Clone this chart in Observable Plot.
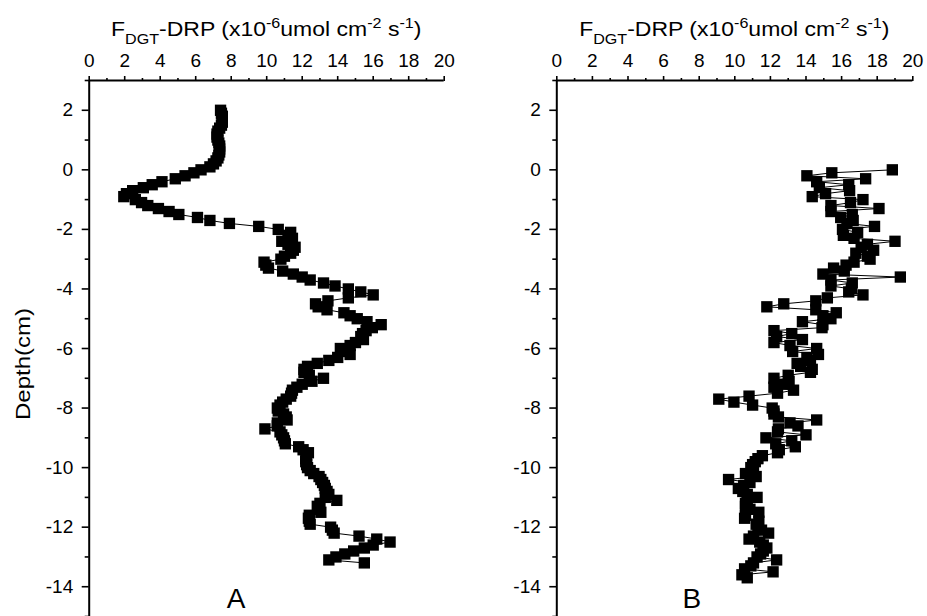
<!DOCTYPE html>
<html>
<head>
<meta charset="utf-8">
<script src="https://cdn.jsdelivr.net/npm/d3@7"></script>
<script src="https://cdn.jsdelivr.net/npm/@observablehq/plot@0.6"></script>
<style>
  html, body { margin: 0; padding: 0; background: #fff; }
  #wrap { position: relative; width: 927px; height: 616px; overflow: hidden; background: #fff; }
  .panel { position: absolute; top: 0; }
  svg text { white-space: pre; }
</style>
</head>
<body>
<div id="wrap"></div>
<script>
// ---------- data ----------
const depthA = [2.0,1.9,1.8,1.7,1.6,1.5,1.4,1.3,1.2,1.1,1.0,0.9,0.8,0.7,0.6,0.5,0.4,0.3,0.2,0.1,0.0,-0.1,-0.2,-0.3,-0.4,-0.5,-0.6,-0.7,-0.8,-0.9,-1.0,-1.1,-1.2,-1.3,-1.4,-1.5,-1.6,-1.7,-1.8,-1.9,-2.0,-2.1,-2.2,-2.3,-2.4,-2.5,-2.6,-2.7,-2.8,-2.9,-3.0,-3.1,-3.2,-3.3,-3.4,-3.5,-3.6,-3.7,-3.8,-3.9,-4.0,-4.1,-4.2,-4.3,-4.4,-4.5,-4.6,-4.7,-4.8,-4.9,-5.0,-5.1,-5.2,-5.3,-5.4,-5.5,-5.6,-5.7,-5.8,-5.9,-6.0,-6.1,-6.2,-6.3,-6.4,-6.5,-6.6,-6.7,-6.8,-6.9,-7.0,-7.1,-7.2,-7.3,-7.4,-7.5,-7.6,-7.7,-7.8,-7.9,-8.0,-8.1,-8.2,-8.3,-8.4,-8.5,-8.6,-8.7,-8.8,-8.9,-9.0,-9.1,-9.2,-9.3,-9.4,-9.5,-9.6,-9.7,-9.8,-9.9,-10.0,-10.1,-10.2,-10.3,-10.4,-10.5,-10.6,-10.7,-10.8,-10.9,-11.0,-11.1,-11.2,-11.3,-11.4,-11.5,-11.6,-11.7,-11.8,-11.9,-12.0,-12.1,-12.2,-12.3,-12.4,-12.5,-12.6,-12.7,-12.8,-12.9,-13.0,-13.1,-13.2];
const fluxA = [7.40,7.45,7.50,7.50,7.50,7.45,7.35,7.25,7.20,7.20,7.25,7.30,7.35,7.35,7.35,7.30,7.25,7.15,7.00,6.80,6.30,5.90,5.40,4.85,4.10,3.55,3.05,2.45,2.10,1.95,2.60,2.95,3.30,3.90,4.50,5.05,6.10,6.80,7.90,9.55,10.65,11.35,11.20,11.45,10.85,11.20,11.60,11.50,11.35,11.00,10.80,9.85,9.95,10.10,10.90,11.50,12.00,12.45,13.20,13.85,14.60,15.30,16.00,14.60,13.45,12.75,12.90,13.40,14.35,14.70,15.10,15.65,16.45,15.95,15.60,15.40,15.30,15.45,15.00,14.70,14.15,14.40,14.70,14.00,13.50,12.85,12.30,12.10,12.10,12.40,13.20,12.55,12.00,11.70,11.45,11.40,11.35,11.10,10.90,10.75,10.60,10.65,10.95,11.10,11.15,10.60,10.60,9.90,10.75,10.85,10.95,11.00,11.05,11.80,12.05,12.35,12.25,12.20,12.20,12.25,12.30,12.45,12.65,12.95,13.05,13.15,13.25,13.30,13.40,13.50,13.30,13.95,13.00,12.85,12.95,13.05,12.40,12.35,12.40,12.45,13.60,13.70,13.80,15.20,16.20,16.95,16.00,15.50,14.90,14.40,13.90,13.50,15.50];

const depthB = [0.0,-0.1,-0.2,-0.3,-0.4,-0.5,-0.6,-0.7,-0.8,-0.9,-1.0,-1.1,-1.2,-1.3,-1.4,-1.5,-1.6,-1.7,-1.8,-1.9,-2.0,-2.1,-2.2,-2.3,-2.4,-2.5,-2.6,-2.7,-2.8,-2.9,-3.0,-3.1,-3.2,-3.3,-3.4,-3.5,-3.6,-3.7,-3.8,-3.9,-4.0,-4.1,-4.2,-4.3,-4.4,-4.5,-4.6,-4.7,-4.8,-4.9,-5.0,-5.1,-5.2,-5.3,-5.4,-5.5,-5.6,-5.7,-5.8,-5.9,-6.0,-6.1,-6.2,-6.3,-6.4,-6.5,-6.6,-6.7,-6.8,-6.9,-7.0,-7.1,-7.2,-7.3,-7.4,-7.5,-7.6,-7.7,-7.8,-7.9,-8.0,-8.1,-8.2,-8.3,-8.4,-8.5,-8.6,-8.7,-8.8,-8.9,-9.0,-9.1,-9.2,-9.3,-9.4,-9.5,-9.6,-9.7,-9.8,-9.9,-10.0,-10.1,-10.2,-10.3,-10.4,-10.5,-10.6,-10.7,-10.8,-10.9,-11.0,-11.1,-11.2,-11.3,-11.4,-11.5,-11.6,-11.7,-11.8,-11.9,-12.0,-12.1,-12.2,-12.3,-12.4,-12.5,-12.6,-12.7,-12.8,-12.9,-13.0,-13.1,-13.2,-13.3,-13.4,-13.5,-13.6,-13.7];
const fluxB = [18.85,15.45,14.05,17.35,14.60,16.40,14.75,16.45,15.10,14.35,17.20,16.50,15.40,18.10,15.40,16.60,15.95,16.65,16.30,17.85,16.05,16.90,16.10,16.70,19.00,17.45,17.10,17.80,16.80,17.45,17.60,16.70,16.25,15.55,16.15,14.95,19.30,15.40,16.60,15.40,16.55,16.40,17.20,15.20,14.55,12.75,11.80,14.55,15.70,14.95,15.40,13.80,14.95,14.90,12.20,13.20,12.35,13.80,12.20,13.10,14.60,13.25,14.70,14.05,14.25,13.50,13.70,14.35,14.25,13.00,12.20,13.05,12.75,12.20,13.30,12.40,10.80,9.10,9.95,11.00,12.10,12.20,12.20,12.45,14.60,13.10,13.55,12.45,12.40,14.00,11.75,13.20,12.30,13.40,12.50,12.40,11.55,11.30,11.15,11.00,10.90,11.05,10.60,11.20,9.65,10.85,10.50,10.20,10.45,10.70,11.25,10.70,10.60,10.60,10.85,11.35,10.60,10.55,11.35,11.20,11.30,11.50,11.90,11.05,10.80,11.40,11.60,11.80,11.60,11.45,11.25,12.35,11.05,10.90,10.55,12.15,10.40,10.70];

const xTicks = [0,2,4,6,8,10,12,14,16,18,20];
const xMinorTicks = [1,3,5,7,9,11,13,15,17,19];
const yTicks = [-14,-12,-10,-8,-6,-4,-2,0,2];
const yMinorTicks = [-15,-13,-11,-9,-7,-5,-3,-1,1,3];
const xDomain = [0, 20];
const yDomain = [-15, 3];
const yLabel = "Depth(cm)";
const panelLetters = ["A", "B"];
// title pieces: [text, role] role: n = normal, sub, sup
const titleParts = [["F","n"],["DGT","sub"],["-DRP (x10","n"],["-6","sup"],["umol cm","n"],["-2","sup"],[" s","n"],["-1","sup"],[")","n"]];

const tableA = depthA.map((d, i) => ({depth: d, flux: fluxA[i]}));
const tableB = depthB.map((d, i) => ({depth: d, flux: fluxB[i]}));

const FONT = "'Liberation Sans', Arial, Helvetica, sans-serif";
const PW = 463, PH = 616;

function makePanel(data, letter, opts) {
  const marks = [
    Plot.axisX({anchor: "top", ticks: xTicks, tickSize: 5, tickPadding: 9, tickFormat: d => String(d), label: null, fontSize: 19, strokeWidth: 1.6}),
    Plot.axisX({anchor: "top", ticks: xMinorTicks, tickSize: 3, tickFormat: () => "", label: null, strokeWidth: 1.6}),
    Plot.axisY({anchor: "left", ticks: yTicks, tickSize: 7, tickPadding: 9, tickFormat: d => String(d), label: null, fontSize: 19, strokeWidth: 1.6}),
    Plot.axisY({anchor: "left", ticks: yMinorTicks, tickSize: 4, tickFormat: () => "", label: null, strokeWidth: 1.6}),
    Plot.ruleY([yDomain[1]], {stroke: "black", strokeWidth: 2}),
    Plot.ruleX([xDomain[0]], {stroke: "black", strokeWidth: 2}),
    Plot.line(data, {x: "flux", y: "depth", stroke: "black", strokeWidth: 1}),
    Plot.dot(data, {x: "flux", y: "depth", symbol: "square", r: 6.4, fill: "black", stroke: "none"}),
    Plot.text([letter], {frameAnchor: "bottom-left", dx: opts.letterDx, dy: -9, lineAnchor: "bottom", textAnchor: "middle", fontSize: 28, fill: "black"})
  ];
  const p = Plot.plot({
    width: PW, height: PH,
    marginTop: 80, marginBottom: 0, marginLeft: opts.marginLeft, marginRight: opts.marginRight,
    x: {domain: xDomain},
    y: {domain: yDomain},
    style: {fontFamily: FONT, color: "black", background: "white", overflow: "visible"},
    marks
  });
  const sx = p.scale("x"), sy = p.scale("y");
  // title with sub/superscripts
  const cx = (sx.apply(xDomain[0]) + sx.apply(xDomain[1])) / 2;
  const t = d3.select(p).append("text")
    .attr("transform", `translate(${cx},36) scale(1.15,1)`)
    .attr("text-anchor", "middle")
    .attr("fill", "black")
    .attr("font-family", FONT)
    .attr("font-size", 20);
  let shift = 0;
  for (const [txt, role] of titleParts) {
    const target = role === "sub" ? 8 : role === "sup" ? -8 : 0;
    t.append("tspan").attr("dy", target - shift).attr("font-size", role === "n" ? 20 : 14).text(txt);
    shift = target;
  }
  if (opts.showYLabel) {
    const ly = sy.apply(yDomain[0]) - 252; // ~364px
    d3.select(p).append("text")
      .attr("transform", `translate(23,${ly}) rotate(-90) scale(1.2,1)`)
      .attr("text-anchor", "middle")
      .attr("dominant-baseline", "central")
      .attr("fill", "black")
      .attr("font-family", FONT)
      .attr("font-size", 20)
      .text(yLabel);
  }
  return p;
}

const wrap = document.getElementById("wrap");
const pA = makePanel(tableA, panelLetters[0], {marginLeft: 88.7, marginRight: 19.3, letterDx: 147, showYLabel: true});
const pB = makePanel(tableB, panelLetters[1], {marginLeft: 93.3, marginRight: 13.7, letterDx: 135, showYLabel: false});
pA.classList.add("panel"); pA.style.left = "0px";
pB.classList.add("panel"); pB.style.left = "463px";
wrap.appendChild(pA);
wrap.appendChild(pB);
</script>
</body>
</html>
